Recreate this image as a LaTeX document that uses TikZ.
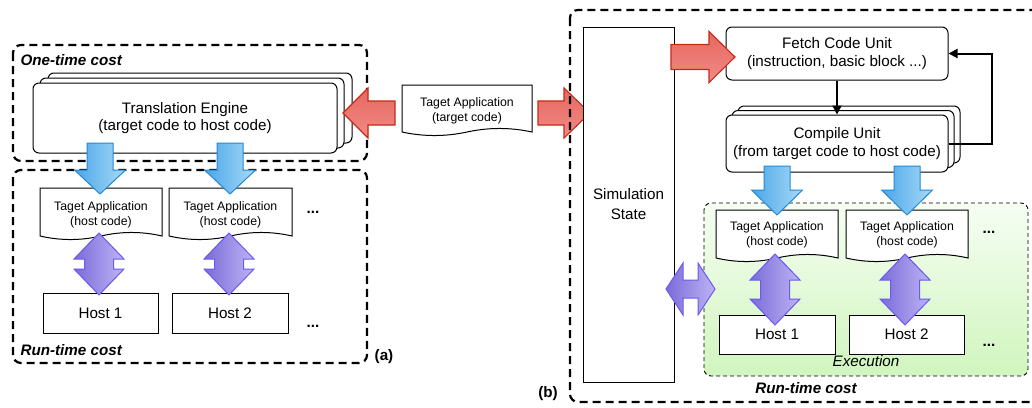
\documentclass[tikz,border=0pt]{standalone}
\usepackage{fontspec}
\setmainfont{Liberation Sans}
\usetikzlibrary{arrows.meta}
\definecolor{redS}{HTML}{C62A18}
\definecolor{redA}{HTML}{E5675F}
\definecolor{redB}{HTML}{F18C86}
\definecolor{bluS}{HTML}{2389D6}
\definecolor{bluA}{HTML}{4AA6E8}
\definecolor{bluB}{HTML}{A8DAF7}
\definecolor{purS}{HTML}{6A5AEE}
\definecolor{purA}{HTML}{7B6BD8}
\definecolor{purB}{HTML}{BDB3F5}
\definecolor{grnA}{HTML}{F6FEF3}
\definecolor{grnB}{HTML}{D0F5BE}
\newcommand\fsn{\fontsize{15.2}{17.5}\selectfont}
\newcommand\fss{\fontsize{12.3}{15}\selectfont}
% horizontal single arrow: style, x start, x tip, y centre, shaft half, head half, head length (signed)
\newcommand\blockH[7]{\path[#1] (#2,{#4-#5}) -- ({#3-(#7)},{#4-#5}) -- ({#3-(#7)},{#4-#6}) -- (#3,#4) -- ({#3-(#7)},{#4+#6}) -- ({#3-(#7)},{#4+#5}) -- (#2,{#4+#5}) -- cycle;}
% downward single arrow: style, x centre, y start, y tip, shaft half, head half, head length
\newcommand\blockD[7]{\path[#1] ({#2-#5},#3) -- ({#2-#5},{#4-#7}) -- ({#2-#6},{#4-#7}) -- (#2,#4) -- ({#2+#6},{#4-#7}) -- ({#2+#5},{#4-#7}) -- ({#2+#5},#3) -- cycle;}
% vertical double arrow: style, x centre, y top, y bottom, shaft half, head half, head length
\newcommand\blockV[7]{\path[#1] (#2,#3) -- ({#2+#6},{#3+#7}) -- ({#2+#5},{#3+#7}) -- ({#2+#5},{#4-#7}) -- ({#2+#6},{#4-#7}) -- (#2,#4) -- ({#2-#6},{#4-#7}) -- ({#2-#5},{#4-#7}) -- ({#2-#5},{#3+#7}) -- ({#2-#6},{#3+#7}) -- cycle;}
% horizontal double arrow: style, y centre, x left, x right, shaft half, head half, head length
\newcommand\blockHH[7]{\path[#1] (#3,#2) -- ({#3+#7},{#2-#6}) -- ({#3+#7},{#2-#5}) -- ({#4-#7},{#2-#5}) -- ({#4-#7},{#2-#6}) -- (#4,#2) -- ({#4-#7},{#2+#6}) -- ({#4-#7},{#2+#5}) -- ({#3+#7},{#2+#5}) -- ({#3+#7},{#2+#6}) -- cycle;}
% document shape: x0, y0 (top), x1, y bottom line
\newcommand\docshape[4]{%
  \pgfmathsetmacro\dw{(#3-#1)/6}\pgfmathsetmacro\dm{(#1+#3)/2}%
  \draw[docline] (#1,#2) -- (#3,#2) -- (#3,#4) .. controls ({#3-\dw},{#4-4.7}) and ({\dm+\dw},{#4-4.7}) .. (\dm,#4) .. controls ({\dm-\dw},{#4+4.7}) and ({#1+\dw},{#4+4.7}) .. (#1,#4) -- cycle;}
\begin{document}
\begin{tikzpicture}[x=1pt,y=-1pt,
  every node/.style={font=\fsn},
  bigdash/.style={draw, line width=2.2pt, dash pattern=on 8pt off 5pt, rounded corners=8pt},
  rbox/.style={draw, line width=1pt, rounded corners=6pt, fill=white},
  pbox/.style={draw, line width=1pt, fill=white},
  docline/.style={draw, line width=1pt, fill=white},
  doctext/.style={font=\fss, align=center},
  redarr/.style={draw=redS, line width=1.1pt, top color=redA, bottom color=redB},
  bluarr/.style={draw=bluS, line width=1pt, left color=bluA, right color=bluB},
  purarr/.style={draw=purS, line width=1pt, left color=purA, right color=purB},
  lbl/.style={font=\fsn\bfseries\itshape},
  dots/.style={font=\fsn\bfseries},
  conn/.style={line width=1.5pt, -{Triangle[length=9pt,width=9pt]}},
  fb/.style={line width=2pt, -{Triangle[length=9pt,width=9pt]}}]
\useasboundingbox (0,0) rectangle (1032,407);
\clip (0,0) rectangle (1032,407);

% ---------------- (a) ----------------
\draw[bigdash] (13,45) rectangle (367,161);
\draw[bigdash] (13,170) rectangle (367,363);
\node[lbl, anchor=west] (otc) at (17,60) {One-time cost};
\node[lbl, anchor=west] (rtca) at (17,350) {Run-time cost};
\node[font=\fsn\bfseries] (la) at (384,357) {(a)};

\draw[rbox] (48,73) rectangle (352,143);
\draw[rbox] (40,78) rectangle (344,148);
\node[rbox, minimum width=304pt, minimum height=70pt, align=center] (te) at (185,118) {Translation Engine\\(target code to host code)};

\docshape{40}{188}{162}{236}
\node[doctext] (da1) at (101,214.5) {Taget Application\\(host code)};
\docshape{169}{188}{292}{236}
\node[doctext] (da2) at (230.5,214.5) {Taget Application\\(host code)};
\node[dots] (dta) at (313,212) {...};

\node[pbox, minimum width=115pt, minimum height=40pt] (ha1) at (100.5,313) {Host 1};
\node[pbox, minimum width=116pt, minimum height=40pt] (ha2) at (230,313) {Host 2};
\node[dots] (dha) at (313,326) {...};

\blockD{bluarr}{100}{143}{194}{13}{25.5}{24}
\blockD{bluarr}{230}{143}{194}{13}{25.5}{24}
\blockV{purarr}{99}{233}{295}{14.5}{25}{26}
\blockV{purarr}{229}{233}{295}{14.5}{25}{26}

% ---------------- middle ----------------
\docshape{402}{85}{532}{132}
\node[doctext] (dm) at (467,111) {Taget Application\\(target code)};
\blockH{redarr}{395}{343}{113}{12}{25}{-25}
\blockH{redarr}{538}{590}{113}{12}{25}{26}

% ---------------- (b) ----------------
\draw[bigdash] (570,10) rectangle (1045,402);
\node[font=\fsn\bfseries] (lb) at (548,394) {(b)};
\node[lbl] (rtcb) at (806,388) {Run-time cost};

\node[pbox, minimum width=91pt, minimum height=355pt, align=center, font=\fontsize{15.2}{20}\selectfont] (sim) at (628.5,204.5) {Simulation\\State};

\node[rbox, minimum width=222pt, minimum height=53pt, align=center] (fetch) at (837,53.5) {Fetch Code Unit\\(instruction, basic block ...)};

\draw[rbox] (738,106) rectangle (960,163);
\draw[rbox] (732,110.5) rectangle (954,167.5);
\node[rbox, minimum width=222pt, minimum height=57pt, align=center] (compile) at (837,143.5) {Compile Unit\\(from target code to host code)};

\draw[conn] (fetch.south) -- (compile.north);
\draw[fb] (compile.east) -- ++(43,0) |- (fetch.east);

\path[draw, line width=0.9pt, dash pattern=on 4pt off 3pt, rounded corners=7pt, top color=grnA, bottom color=grnB] (704,203) rectangle (1028,376);
\node[font=\fsn\itshape] (exe) at (866,361) {Execution};

\docshape{716}{210}{838}{258}
\node[doctext] (db1) at (777,235) {Taget Application\\(host code)};
\docshape{846}{210}{968}{258}
\node[doctext] (db2) at (907,235) {Taget Application\\(host code)};
\node[dots] (dtb) at (989,232) {...};

\node[pbox, minimum width=116pt, minimum height=39pt] (hb1) at (777,334.5) {Host 1};
\node[pbox, minimum width=115pt, minimum height=39pt] (hb2) at (906.5,334.5) {Host 2};
\node[dots] (dhb) at (989,345) {...};

\blockD{bluarr}{777}{166}{215}{13}{25.5}{25}
\blockD{bluarr}{907}{166}{215}{13}{25.5}{25}
\blockV{purarr}{775}{254}{325}{14.5}{25}{26}
\blockV{purarr}{905}{254}{325}{14.5}{25}{26}
\blockHH{purarr}{289}{666}{715}{9}{26}{17}
\blockH{redarr}{671}{735}{57}{12.5}{25.5}{26}
\end{tikzpicture}
\end{document}
